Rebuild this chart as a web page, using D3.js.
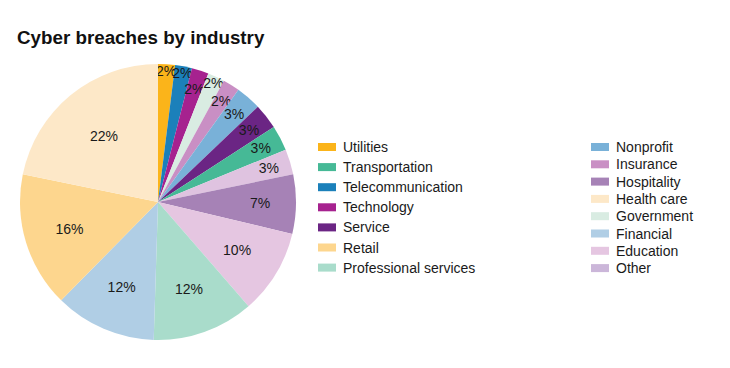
<!DOCTYPE html>
<html>
<head>
<meta charset="utf-8">
<script src="https://cdn.jsdelivr.net/npm/d3@7/dist/d3.min.js"></script>
<style>
  body { margin: 0; background: #fff; }
  svg { display: block; font-family: "Liberation Sans", Arial, Helvetica, sans-serif; }
</style>
</head>
<body>
<div id="chart"></div>
<script>
// slices, clockwise from 12 o'clock
const industries = ['Utilities', 'Telecommunication', 'Technology', 'Government', 'Insurance',
  'Nonprofit', 'Service', 'Transportation', 'Other', 'Hospitality', 'Education',
  'Professional services', 'Financial', 'Retail', 'Health care'];
const shares = [2, 2, 2, 2, 2, 3, 3, 3, 3, 7, 10, 12, 12, 16, 22];
const sliceColors = ['#fbb41a', '#1b80ba', '#a6228f', '#d9ece2', '#c98fc4',
  '#79b1d8', '#6b2584', '#46b996', '#dfc3e0', '#a682b6', '#e5c6e1',
  '#a9dccb', '#b0cee5', '#fdd68e', '#fde8c8'];
const legendLeft = ['Utilities', 'Transportation', 'Telecommunication', 'Technology', 'Service', 'Retail', 'Professional services'];
const legendRight = ['Nonprofit', 'Insurance', 'Hospitality', 'Health care', 'Government', 'Financial', 'Education', 'Other'];
const legendColorOverride = { 'Other': '#cbb6d9' };

const width = 730, height = 368;
const radius = 138;
const cx = 158, cy = 202;

const data = industries.map((d, i) => ({ category: d, value: shares[i] }));
const color = d3.scaleOrdinal().domain(industries).range(sliceColors);

const svg = d3.select('#chart').append('svg')
  .attr('width', width)
  .attr('height', height);

svg.append('text')
  .attr('x', 17)
  .attr('y', 44)
  .text('Cyber breaches by industry')
  .style('font-size', '18.8px')
  .style('font-weight', 'bold')
  .style('fill', '#111');

const g = svg.append('g').attr('transform', `translate(${cx},${cy})`);

const pie = d3.pie().value(d => d.value).sort(null);
const arc = d3.arc().innerRadius(0).outerRadius(radius);

const arcs = g.selectAll('.arc')
  .data(pie(data))
  .enter().append('g')
  .attr('class', 'arc');

arcs.append('path')
  .attr('d', arc)
  .attr('fill', d => color(d.data.category));

// small slices get their labels pushed toward the rim, some 2% ones staggered inward
function labelRadius(d, i) {
  const v = d.data.value;
  if (v >= 20) return radius * 0.62;
  if (v >= 10) return radius * 0.67;
  if (v >= 7) return radius * 0.74;
  if (v >= 3) return radius * 0.84;
  return radius * (i > 0 && i % 2 === 0 ? 0.86 : 0.95);
}

arcs.append('text')
  .attr('transform', (d, i) => {
    const r = labelRadius(d, i);
    const a = (d.startAngle + d.endAngle) / 2;
    return `translate(${Math.sin(a) * r},${-Math.cos(a) * r})`;
  })
  .attr('dy', '0.35em')
  .attr('text-anchor', 'middle')
  .text(d => `${d.data.value}%`)
  .style('font-size', '14px')
  .style('fill', '#1a1a1a');

function drawLegend(items, x, y, step) {
  const legend = svg.append('g')
    .attr('transform', `translate(${x},${y})`);

  const rows = legend.selectAll('.legend-item')
    .data(items)
    .enter().append('g')
    .attr('class', 'legend-item')
    .attr('transform', (d, i) => `translate(0,${i * step})`);

  rows.append('rect')
    .attr('x', 0)
    .attr('y', -4)
    .attr('width', 18)
    .attr('height', 8)
    .style('fill', d => legendColorOverride[d] || color(d));

  rows.append('text')
    .attr('x', 25)
    .attr('y', 5)
    .text(d => d)
    .style('font-size', '14px')
    .style('fill', '#1a1a1a');
}

drawLegend(legendLeft, 318, 147, 20.1);
drawLegend(legendRight, 591, 147, 17.3);
</script>
</body>
</html>
